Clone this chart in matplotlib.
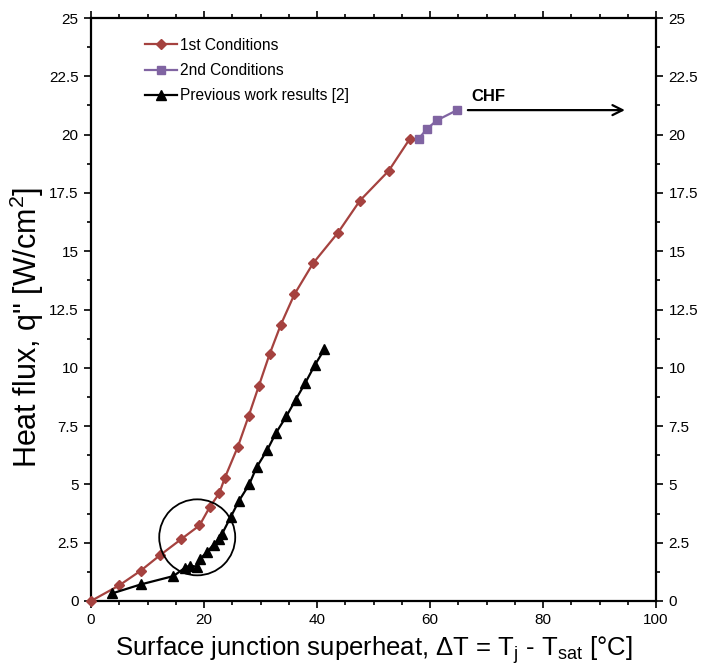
import matplotlib
matplotlib.use("Agg")
import matplotlib.pyplot as plt
from matplotlib.ticker import MultipleLocator
from matplotlib.patches import Ellipse

plt.rcParams['font.family'] = ['Liberation Sans', 'DejaVu Sans']
plt.rcParams['mathtext.fontset'] = 'custom'
plt.rcParams['mathtext.rm'] = 'Liberation Sans'
plt.rcParams['mathtext.it'] = 'Liberation Sans'
plt.rcParams['mathtext.default'] = 'regular'

# 1st Conditions
first_x = [0.0, 5.0, 8.8, 12.2, 15.9, 19.2, 21.0, 22.7, 23.7, 26.0, 27.9, 29.7, 31.6, 33.6,
           36.0, 39.3, 43.7, 47.6, 52.7, 56.4]
first_y = [0.0, 0.67, 1.30, 1.96, 2.64, 3.24, 4.02, 4.62, 5.29, 6.62, 7.93, 9.22, 10.58, 11.85,
           13.15, 14.48, 15.79, 17.17, 18.45, 19.81]

# 2nd Conditions
second_x = [58.0, 59.5, 61.2, 64.8]
second_y = [19.83, 20.25, 20.61, 21.05]

# Previous work results [2]
prev_x = [3.8, 8.8, 14.6, 16.6, 17.5, 18.7, 19.3, 20.6, 21.7, 22.6, 23.2, 24.7, 26.2, 28.0,
          29.3, 31.2, 32.7, 34.6, 36.2, 37.9, 39.6, 41.3]
prev_y = [0.33, 0.71, 1.07, 1.42, 1.52, 1.47, 1.80, 2.12, 2.42, 2.65, 2.88, 3.59, 4.30, 5.00,
          5.73, 6.48, 7.19, 7.93, 8.62, 9.34, 10.11, 10.79]

chf_start = (66.7, 21.05)
chf_end = (94.5, 21.05)
circle_center = (18.8, 2.73)

ytick_vals = [0, 2.5, 5, 7.5, 10, 12.5, 15, 17.5, 20, 22.5, 25]
ytick_labels = ['0', '2.5', '5', '7.5', '10', '12.5', '15', '17.5', '20', '22.5', '25']

red = '#A5423F'
purple = '#8064A2'

fig = plt.figure(figsize=(7.02, 6.66), dpi=100)
ax = fig.add_axes([91/702, 1-601/666, (656-91)/702, (601-18)/666])

ax.plot(first_x, first_y, color=red, marker='D', markersize=5.2, lw=1.6,
        label='1st Conditions', clip_on=False, zorder=3)
ax.plot(second_x, second_y, color=purple, marker='s', markersize=5.8, lw=1.6,
        label='2nd Conditions', zorder=3)
ax.plot(prev_x, prev_y, color='black', marker='^', markersize=6.5, lw=1.6,
        label='Previous work results [2]', zorder=3)

ax.add_patch(Ellipse(circle_center, width=76/5.65, height=76/23.32,
                     fill=False, edgecolor='black', lw=1.3, zorder=4))

ax.annotate('', xy=chf_end, xytext=chf_start,
            arrowprops=dict(arrowstyle='->', color='black', lw=1.6,
                            mutation_scale=18, shrinkA=0, shrinkB=0))
ax.text(67.3, 21.3, 'CHF', fontsize=12, fontweight='bold', ha='left', va='bottom')

ax.set_xlim(0, 100)
ax.set_ylim(0, 25)
ax.xaxis.set_major_locator(MultipleLocator(20))
ax.xaxis.set_minor_locator(MultipleLocator(5))
ax.yaxis.set_minor_locator(MultipleLocator(1.25))
ax.set_yticks(ytick_vals)
ax.set_yticklabels(ytick_labels)

ax.tick_params(which='both', direction='out', top=True, right=True,
               labelright=True, labelsize=11, width=1.2, pad=4)
ax.tick_params(which='major', length=5)
ax.tick_params(which='minor', length=3)
for s in ax.spines.values():
    s.set_linewidth(1.6)

ax.set_xlabel(r'Surface junction superheat, $\Delta$T = T$_j$ - T$_{sat}$ [°C]',
              fontsize=18.5, labelpad=5)
ax.set_ylabel(r'Heat flux, q" [W/cm$^2$]', fontsize=22, labelpad=2)
ax.yaxis.label.set_y(0.47)

ax.legend(loc='upper left', bbox_to_anchor=(0.095, 0.966), frameon=False,
          fontsize=11.2, handlelength=2.1, handletextpad=0.15, labelspacing=0.66,
          borderpad=0, borderaxespad=0)

fig.savefig('out.png', dpi=100)
